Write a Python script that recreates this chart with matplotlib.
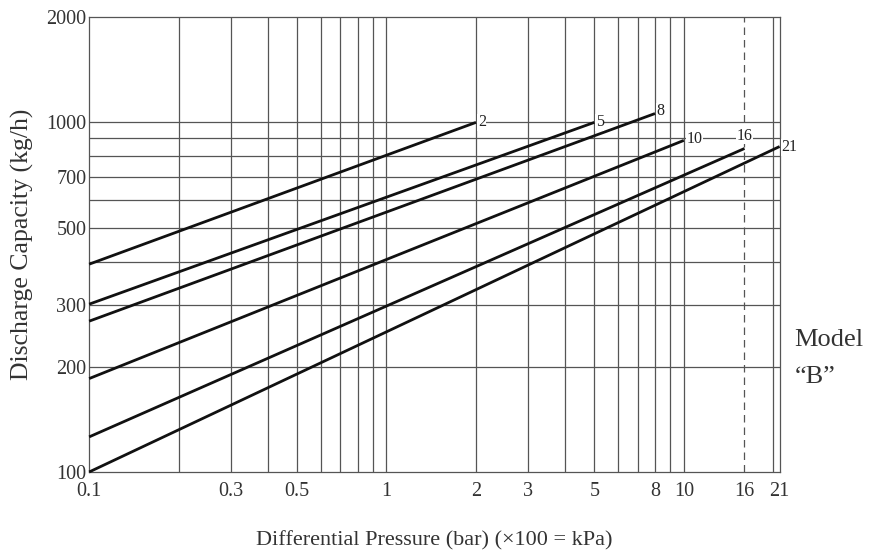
import matplotlib.pyplot as plt
import numpy as np

plt.rcParams['font.family'] = ['Liberation Serif', 'DejaVu Serif']

# model curves: max pressure (bar), capacity at 0.1 bar, capacity at max pressure (kg/h)
models = ["2", "5", "8", "10", "16", "21"]
p_start = [0.1, 0.1, 0.1, 0.1, 0.1, 0.1]
p_end = [2, 5, 8, 10, 16, 21]
q_start = [393, 302, 270, 185, 126, 100]
q_end = [1000, 1000, 1060, 888, 842, 853]

x_ticks = [0.1, 0.3, 0.5, 1, 2, 3, 5, 8, 10, 16, 21]
y_ticks = [100, 200, 300, 500, 700, 1000, 2000]
x_grid = [0.2, 0.3, 0.4, 0.5, 0.6, 0.7, 0.8, 0.9, 1, 2, 3, 4, 5, 6, 7, 8, 9, 10, 20]
y_grid = [200, 300, 400, 500, 600, 700, 800, 900, 1000]

fig = plt.figure(figsize=(8.74, 5.53), dpi=100)
ax = fig.add_axes([0.102, 0.1465, 0.790, 0.8225])
ax.set_xscale("log")
ax.set_yscale("log")
ax.set_xlim(0.1, 21)
ax.set_ylim(100, 2000)

grid_col = "#555555"
for x in x_grid:
    ax.axvline(x, color=grid_col, lw=0.9, zorder=1)
ax.axvline(16, color=grid_col, lw=0.9, ls=(0, (6, 4)), zorder=1)
for y in y_grid:
    ax.axhline(y, color=grid_col, lw=0.9, zorder=1)

for name, x0, x1, y0, y1 in zip(models, p_start, p_end, q_start, q_end):
    ax.plot([x0, x1], [y0, y1], color="#111111", lw=2.0, zorder=3,
            solid_capstyle="butt", clip_on=False)

# curve labels
label_pos = {"2": (2.03, 1000, "left", "center"),
             "5": (5.05, 1000, "left", "center"),
             "8": (8.1, 1075, "left", "center"),
             "10": (10.2, 895, "left", "center"),
             "16": (15.0, 870, "left", "bottom"),
             "21": (21.3, 850, "left", "center")}
for name in models:
    x, y, ha, va = label_pos[name]
    ax.text(x, y, name, fontsize=11.5, ha=ha, va=va, color="#222222", zorder=4,
            bbox=dict(facecolor="white", edgecolor="none", pad=0.3))

ax.set_xticks(x_ticks)
ax.set_xticklabels([str(t) for t in x_ticks])
ax.set_yticks(y_ticks)
ax.set_yticklabels([str(t) for t in y_ticks])
ax.minorticks_off()
ax.tick_params(axis="x", length=0, labelsize=14.5, labelcolor="#333333", pad=7)
ax.tick_params(axis="y", length=0, labelsize=14.5, labelcolor="#333333", pad=2)

for s in ax.spines.values():
    s.set_color(grid_col)
    s.set_linewidth(0.9)

ax.set_xlabel("Differential Pressure (bar) (\u00d7100 = kPa)", fontsize=16,
              color="#333333", labelpad=22)
ax.set_ylabel("Discharge Capacity (kg/h)", fontsize=18.5, color="#333333")
ax.yaxis.set_label_coords(-0.08, 0.5)

fig.text(0.909, 0.352, "Model\n\u201cB\u201d", fontsize=19, color="#333333",
         ha="left", va="center", linespacing=1.9)

fig.savefig("out.png", dpi=100)
